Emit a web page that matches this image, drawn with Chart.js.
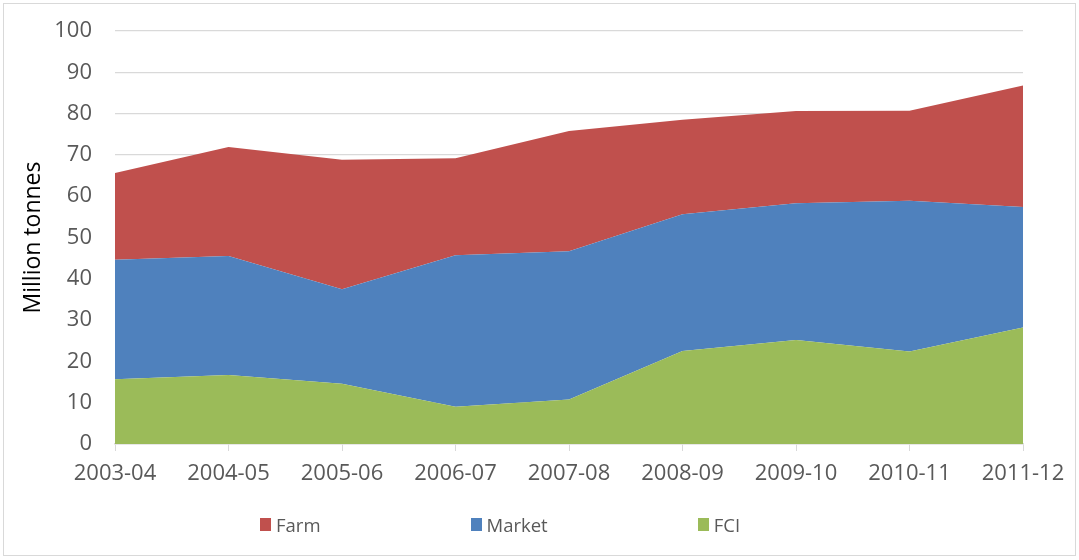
<!DOCTYPE html>
<html>
<head>
<meta charset="utf-8">
<script src="https://cdn.jsdelivr.net/npm/chart.js@4"></script>
<style>
  body { margin: 0; background: #fff; }
  #wrap { position: relative; width: 1079px; height: 560px; }
  #frame {
    position: absolute; left: 3px; top: 3px; width: 1071px; height: 551px;
    border: 1px solid #d9d9d9; pointer-events: none;
  }
  #legend {
    position: absolute; left: 260px; top: 512px;
    display: flex; gap: 150px;
    font-family: 'Open Sans', sans-serif; font-size: 18.5px; color: #595959;
  }
  #legend .item { display: flex; align-items: center; white-space: nowrap; }
  #legend .box { width: 11px; height: 13px; margin-right: 5px; }
</style>
</head>
<body>
<div id="wrap">
  <canvas id="chart" width="1079" height="560"></canvas>
  <div id="frame"></div>
  <div id="legend"></div>
</div>
<script>
// Values in million tonnes
const years = ['2003-04', '2004-05', '2005-06', '2006-07', '2007-08', '2008-09', '2009-10', '2010-11', '2011-12'];
const fci = [15.7, 16.7, 14.6, 9.0, 10.8, 22.5, 25.2, 22.4, 28.2];
const market = [28.9, 28.8, 22.9, 36.7, 35.9, 33.1, 33.1, 36.5, 29.2];
const farm = [21.0, 26.4, 31.3, 23.5, 29.1, 22.9, 22.3, 21.8, 29.4];
const yTicks = [0, 10, 20, 30, 40, 50, 60, 70, 80, 90, 100];

const colors = {
    farm: '#c0504d',
    market: '#4f81bd',
    fci: '#9bbb59'
};

function areaSet(label, values, color, fill) {
    return {
        label: label,
        data: values,
        backgroundColor: color,
        borderColor: color,
        borderWidth: 0,
        pointRadius: 0,
        tension: 0,
        fill: fill
    };
}

// HTML legend, Farm / Market / FCI order (top of stack first)
const htmlLegend = {
    id: 'htmlLegend',
    afterUpdate(chart) {
        const box = document.getElementById('legend');
        box.innerHTML = '';
        chart.data.datasets.slice().reverse().forEach(ds => {
            const item = document.createElement('div');
            item.className = 'item';
            const sw = document.createElement('span');
            sw.className = 'box';
            sw.style.background = ds.backgroundColor;
            const txt = document.createElement('span');
            txt.textContent = ds.label;
            item.appendChild(sw);
            item.appendChild(txt);
            box.appendChild(item);
        });
    }
};

const ctx = document.getElementById('chart').getContext('2d');
const chart = new Chart(ctx, {
    type: 'line',
    data: {
        labels: years,
        datasets: [
            areaSet('FCI', fci, colors.fci, 'origin'),
            areaSet('Market', market, colors.market, '-1'),
            areaSet('Farm', farm, colors.farm, '-1')
        ]
    },
    options: {
        responsive: false,
        animation: false,
        layout: {
            padding: { left: 0, right: 56, top: 31, bottom: 60 }
        },
        plugins: {
            legend: { display: false },
            tooltip: { enabled: false }
        },
        scales: {
            x: {
                offset: false,
                grid: {
                    drawOnChartArea: false,
                    drawTicks: true,
                    tickLength: 7,
                    color: '#d9d9d9'
                },
                border: { color: '#d9d9d9', width: 1.5 },
                ticks: {
                    color: '#595959',
                    padding: 10,
                    maxRotation: 0,
                    autoSkip: false,
                    font: { family: 'Open Sans', size: 22 }
                },
                afterFit(scale) { scale.height = 56; }
            },
            y: {
                stacked: true,
                min: 0,
                max: 100,
                afterBuildTicks(scale) {
                    scale.ticks = yTicks.map(v => ({ value: v }));
                },
                grid: {
                    color: '#d9d9d9',
                    lineWidth: 1.3,
                    drawTicks: false
                },
                border: { display: false },
                ticks: {
                    color: '#595959',
                    padding: 23,
                    font: { family: 'Open Sans', size: 22 }
                },
                title: {
                    display: true,
                    text: 'Million tonnes',
                    color: '#000',
                    padding: { top: 20, bottom: 0 },
                    font: { family: 'Open Sans', size: 23 }
                },
                afterFit(scale) {
                    scale.width = 115;
                    // labels fit inside the layout padding, no extra inset
                    scale.paddingTop = 0;
                    scale.paddingBottom = 0;
                }
            }
        }
    },
    plugins: [htmlLegend]
});
</script>
</body>
</html>
